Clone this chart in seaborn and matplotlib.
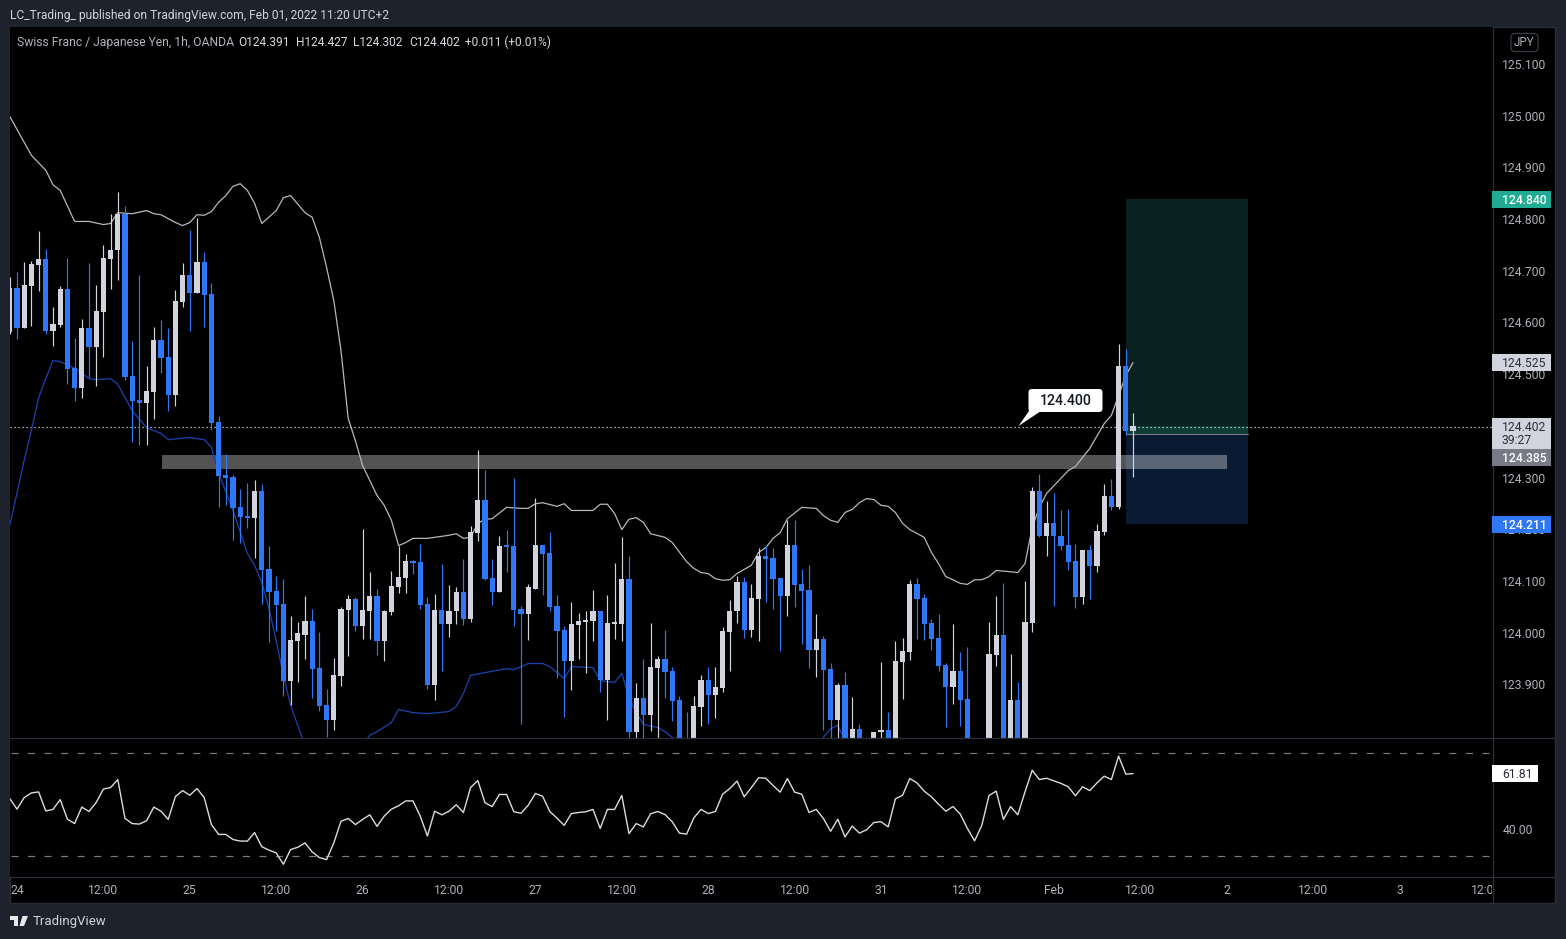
import matplotlib
matplotlib.use("Agg")
import matplotlib.pyplot as plt
import pandas as pd
import seaborn as sns
from matplotlib.lines import Line2D
from matplotlib.patches import FancyBboxPatch, Polygon, Rectangle
from matplotlib.transforms import Bbox, IdentityTransform, ScaledTranslation

bar_open = [
 124.584,124.669,124.590,124.673,124.712,124.725,124.586,124.596,124.667,124.513,
 124.474,124.590,124.555,124.621,124.725,124.741,124.812,124.499,124.451,124.445,
 124.468,124.567,124.534,124.462,124.642,124.694,124.658,124.719,124.656,124.410,
 124.306,124.302,124.244,124.228,124.224,124.275,124.124,124.083,124.058,123.909,
 123.986,123.998,124.025,123.934,123.861,123.832,123.917,124.046,124.066,124.015,
 124.044,124.073,123.986,124.041,124.089,124.108,124.141,124.139,124.058,123.901,
 124.046,124.019,124.043,124.081,124.029,124.195,124.259,124.108,124.081,124.170,
 124.170,124.048,124.037,124.087,124.172,124.155,124.054,124.006,123.946,124.017,
 124.023,124.025,124.043,123.911,124.019,124.019,124.106,123.810,123.876,123.843,
 123.934,123.950,123.927,123.872,123.785,123.785,123.857,123.911,123.882,123.894,
 124.002,124.043,124.099,124.006,124.066,124.149,124.147,124.108,124.072,124.172,
 124.095,124.085,123.969,123.990,123.932,123.832,123.901,123.785,123.816,123.770,
 123.785,123.809,123.814,123.785,123.944,123.965,124.095,124.068,124.021,123.992,
 123.940,123.897,123.928,123.874,123.770,123.750,123.785,123.959,123.998,123.785,
 123.872,123.785,124.021,124.275,124.188,124.213,124.188,124.172,124.141,124.070,
 124.161,124.130,124.197,124.265,124.244,124.518,124.391]
bar_high = [
 124.689,124.700,124.719,124.721,124.778,124.743,124.632,124.673,124.727,124.572,
 124.609,124.716,124.675,124.752,124.812,124.853,124.826,124.565,124.694,124.518,
 124.592,124.607,124.590,124.665,124.717,124.781,124.803,124.737,124.677,124.420,
 124.348,124.306,124.279,124.292,124.296,124.290,124.170,124.112,124.106,124.033,
 124.023,124.072,124.048,124.002,123.892,123.952,124.052,124.075,124.070,124.203,
 124.118,124.087,124.046,124.120,124.170,124.153,124.143,124.174,124.070,124.077,
 124.135,124.093,124.089,124.145,124.207,124.354,124.317,124.145,124.188,124.201,
 124.300,124.054,124.095,124.263,124.172,124.197,124.075,124.015,124.060,124.039,
 124.044,124.085,124.043,124.075,124.137,124.186,124.149,123.905,123.950,124.021,
 123.956,124.006,123.936,123.880,123.849,123.880,123.919,123.936,123.936,124.012,
 124.064,124.112,124.110,124.095,124.166,124.170,124.166,124.108,124.220,124.220,
 124.124,124.133,124.037,123.996,123.942,123.905,123.925,123.878,123.824,123.788,
 123.810,123.944,123.849,123.986,123.992,124.104,124.108,124.077,124.029,124.037,
 123.942,124.019,123.965,123.973,123.785,123.775,124.023,124.073,124.097,123.961,
 123.907,124.101,124.284,124.308,124.257,124.271,124.238,124.240,124.174,124.162,
 124.172,124.211,124.290,124.298,124.559,124.551,124.427]
bar_low = [
 124.580,124.569,124.590,124.594,124.663,124.580,124.557,124.592,124.482,124.449,
 124.456,124.497,124.478,124.534,124.667,124.683,124.491,124.371,124.365,124.365,
 124.414,124.503,124.431,124.441,124.631,124.586,124.658,124.592,124.393,124.244,
 124.248,124.180,124.176,124.205,124.147,124.058,123.983,124.004,123.880,123.861,
 123.907,123.950,123.876,123.851,123.800,123.814,123.899,123.957,124.004,123.990,
 123.990,123.959,123.946,124.035,124.079,124.079,124.116,124.048,123.892,123.872,
 123.927,123.994,124.019,124.017,124.023,124.178,124.103,124.056,124.081,124.118,
 124.015,123.824,123.988,124.087,124.075,124.043,123.913,123.839,123.890,123.950,
 123.923,123.985,123.886,123.832,123.990,123.986,123.785,123.785,123.785,123.812,
 123.785,123.876,123.830,123.770,123.760,123.775,123.822,123.824,123.836,123.886,
 123.927,124.021,123.992,123.994,123.985,124.060,124.048,123.967,124.033,124.052,
 123.979,123.934,123.915,123.814,123.785,123.785,123.770,123.770,123.770,123.750,
 123.775,123.785,123.770,123.770,123.874,123.948,123.990,123.988,123.969,123.927,
 123.820,123.863,123.822,123.770,123.740,123.740,123.770,123.938,123.770,123.770,
 123.770,123.770,124.002,124.186,124.149,124.054,124.161,124.122,124.050,124.058,
 124.066,124.118,124.191,124.238,124.240,124.383,124.302]
bar_close = [
 124.669,124.590,124.675,124.714,124.725,124.586,124.598,124.667,124.511,124.474,
 124.590,124.555,124.623,124.727,124.741,124.812,124.497,124.449,124.445,124.470,
 124.567,124.532,124.462,124.644,124.694,124.658,124.719,124.654,124.408,124.304,
 124.300,124.242,124.226,124.224,124.275,124.122,124.081,124.056,123.909,123.988,
 124.000,124.025,123.932,123.859,123.832,123.919,124.048,124.066,124.015,124.046,
 124.073,123.986,124.043,124.091,124.110,124.141,124.137,124.056,123.901,124.046,
 124.019,124.044,124.081,124.029,124.197,124.259,124.106,124.081,124.170,124.168,
 124.046,124.037,124.089,124.172,124.153,124.052,124.004,123.946,124.019,124.025,
 124.027,124.043,123.911,124.021,124.021,124.106,123.810,123.876,123.843,123.936,
 123.950,123.925,123.870,123.785,123.775,123.859,123.911,123.882,123.896,124.004,
 124.044,124.099,124.006,124.068,124.149,124.145,124.106,124.072,124.172,124.093,
 124.083,123.969,123.990,123.930,123.832,123.901,123.785,123.816,123.785,123.755,
 123.810,123.814,123.785,123.946,123.967,124.095,124.066,124.019,123.990,123.938,
 123.897,123.928,123.872,123.785,123.750,123.770,123.961,123.998,123.785,123.872,
 123.785,124.023,124.275,124.188,124.213,124.188,124.170,124.139,124.070,124.161,
 124.130,124.199,124.265,124.244,124.518,124.391,124.402]

upper_bars = [
 -1,2,4,5,6,8,10,12,13,14,
 16,18,19,20,22,23,24,25,26,27,
 28,29,30,31,32,33,34,36,37,38,
 40,41,42,43,44,45,46,47,48,49,
 50,51,52,53,54,55,57,60,61,62,
 63,64,65,66,68,70,71,72,73,75,
 76,77,80,81,82,83,84,85,86,87,
 88,90,91,93,94,95,96,97,98,99,
 100,102,103,104,105,106,107,109,111,112,
 113,114,115,116,117,118,119,120,121,122,
 123,124,126,127,128,129,130,131,132,133,
 134,135,136,139,140,141,142,143,146,147,
 149,151,152,154,155]
upper_vals = [
 125.000,124.925,124.896,124.868,124.857,124.797,124.797,124.791,124.793,124.814,
 124.812,124.818,124.812,124.810,124.795,124.789,124.795,124.810,124.809,124.816,
 124.834,124.847,124.865,124.870,124.857,124.832,124.793,124.818,124.843,124.847,
 124.814,124.805,124.766,124.708,124.644,124.547,124.416,124.373,124.325,124.296,
 124.267,124.248,124.219,124.170,124.176,124.184,124.184,124.190,124.193,124.184,
 124.186,124.213,124.221,124.222,124.244,124.242,124.242,124.251,124.253,124.246,
 124.251,124.238,124.238,124.250,124.250,124.232,124.201,124.221,124.224,124.215,
 124.193,124.186,124.176,124.139,124.126,124.118,124.116,124.106,124.103,124.104,
 124.116,124.132,124.157,124.166,124.184,124.195,124.222,124.244,124.242,124.228,
 124.219,124.215,124.234,124.240,124.253,124.261,124.259,124.248,124.246,124.234,
 124.213,124.201,124.186,124.157,124.135,124.110,124.104,124.097,124.095,124.104,
 124.104,124.110,124.122,124.118,124.135,124.205,124.244,124.271,124.315,124.323,
 124.358,124.406,124.422,124.499,124.524]
lower_bars = [
 -1,1,2,3,4,5,6,8,10,11,
 13,14,16,18,20,21,24,26,27,28,
 30,32,33,34,35,36,37,38,39,40,
 44,48,49,50,52,53,55,57,60,61,
 62,63,66,68,69,71,73,74,76,77,
 80,81,83,84,85,86,87,89,90,91,
 92,100,110,112,113,114,115,118]
lower_vals = [
 124.209,124.335,124.393,124.456,124.493,124.528,124.526,124.513,124.493,124.491,
 124.493,124.482,124.431,124.398,124.387,124.375,124.379,124.375,124.360,124.311,
 124.238,124.155,124.132,124.099,124.048,123.986,123.919,123.861,123.822,123.783,
 123.720,123.785,123.803,123.810,123.828,123.853,123.847,123.845,123.849,123.859,
 123.884,123.919,123.927,123.932,123.930,123.942,123.942,123.936,123.913,123.936,
 123.934,123.909,123.905,123.923,123.876,123.847,123.824,123.818,123.810,123.799,
 123.775,123.720,123.750,123.799,123.816,123.822,123.793,123.750]

rsi_vals = [
 52.1,48.0,52.5,54.3,54.7,47.3,47.9,51.7,44.1,42.4,
 48.8,47.1,50.6,55.8,56.4,59.5,44.4,42.4,42.2,43.5,
 48.8,47.2,44.0,52.9,55.2,53.4,56.0,52.5,42.0,38.2,
 38.2,36.2,35.6,35.6,38.9,33.4,32.1,31.0,26.6,32.3,
 33.2,34.9,31.4,29.2,28.4,34.9,43.3,44.4,42.0,44.0,
 45.8,41.3,45.3,48.0,49.3,51.2,51.2,45.3,37.6,47.2,
 45.8,47.2,49.7,46.7,56.4,59.1,50.5,49.0,53.7,53.7,
 47.0,46.4,49.5,54.1,53.0,47.1,44.5,41.7,46.3,46.7,
 47.0,47.9,40.5,47.9,47.9,53.3,38.5,42.4,41.1,46.2,
 47.1,45.9,43.1,38.7,38.3,44.6,47.9,46.3,47.1,53.8,
 56.0,58.9,52.8,56.4,60.2,60.0,57.2,54.6,59.9,54.6,
 53.8,46.7,47.9,44.4,39.4,44.1,37.2,41.4,38.7,40.0,
 42.8,43.1,41.1,52.0,53.4,59.9,58.2,55.0,52.8,49.9,
 47.2,49.0,46.1,40.5,35.7,41.7,53.3,55.0,44.0,49.0,
 45.8,54.7,63.1,59.5,60.0,59.0,58.0,56.7,53.2,56.7,
 55.2,58.2,60.8,59.5,68.6,61.6,61.81]

price_ticks = [123.9,124.0,124.1,124.2,124.3,124.4,124.5,124.6,124.7,124.8,124.9,125.0,125.1]
time_labels = ["24","12:00","25","12:00","26","12:00","27","12:00","28","12:00","31","12:00","Feb","12:00","2","12:00","3","12:00"]
target_price, entry_price, stop_price, last_price = 124.840, 124.385, 124.211, 124.402
zone_top, zone_bottom, callout_price = 124.345, 124.318, 124.400

W, H = 1566, 939
FRAME, BLACK, GRID = "#1e222d", "#000000", "#2a2e39"
UP, DOWN, TICK = "#d1d4dc", "#2f77f7", "#aeb1ba"

sns.set_theme(style="dark", rc={"axes.grid": False})
plt.rcParams["font.family"] = ["Roboto", "DejaVu Sans"]

fig = plt.figure(figsize=(W / 100, H / 100), dpi=100, facecolor=FRAME)


def fx(x):
    return x / W


def fy(y):
    return 1 - y / H


def pane(left, top, right, bottom):
    return fig.add_axes([fx(left), fy(bottom), fx(right - left), fy(top) - fy(bottom)], facecolor=BLACK)


fig.add_artist(Rectangle((fx(10), fy(903)), fx(1545), fy(27) - fy(903), transform=fig.transFigure,
                         fc=BLACK, ec=GRID, lw=1, zorder=-1))

ax = pane(10, 27, 1492.5, 737.5)
ar = pane(10, 738, 1492.5, 876.5)
x_left, x_right = (10 - 17) / 7.2, (1492.5 - 17) / 7.2
for a in (ax, ar):
    a.grid(False)
    for s in a.spines.values():
        s.set_visible(False)

# --- position tool and S/R zone
x0, x1 = (1126 - 17) / 7.2, (1248 - 17) / 7.2
ax.fill_between([x0, x1], entry_price, target_price, color="#09221f", lw=0, zorder=1)
ax.fill_between([x0, x1], entry_price, last_price, color="#0f3d36", lw=0, zorder=1.1)
ax.fill_between([x0, x1], stop_price, entry_price, color="#0a1a33", lw=0, zorder=1)
ax.plot([x0, x1], [entry_price, entry_price], color="#787b86", lw=0.8, zorder=1.2)
ax.fill_between([(162 - 17) / 7.2, (1227 - 17) / 7.2], zone_bottom, zone_top, color="#ffffff", alpha=0.33, lw=0, zorder=1.3)
ax.axhline(last_price - 0.003, color="#dcdcdc", lw=0.9, ls=(0, (1, 2.2)), zorder=1.6)

# --- Bollinger bands
sns.lineplot(data=pd.DataFrame({"bar": upper_bars, "price": upper_vals}), x="bar", y="price", ax=ax,
             color="#b8b8b8", lw=0.9, errorbar=None, legend=False, zorder=2)
sns.lineplot(data=pd.DataFrame({"bar": lower_bars, "price": lower_vals}), x="bar", y="price", ax=ax,
             color="#1a3fa8", lw=0.95, errorbar=None, legend=False, zorder=2)

# --- candles
bars = pd.DataFrame({"open": bar_open, "high": bar_high, "low": bar_low, "close": bar_close})
bars["bar"] = range(-1, len(bars) - 1)
for rising, col in ((True, UP), (False, DOWN)):
    g = bars[(bars.close >= bars.open) == rising]
    ax.vlines(g.bar, g.low, g.high, color=col, lw=0.85, zorder=3)
    ax.bar(g.bar, (g.close - g.open).abs().clip(lower=0.003), bottom=g[["open", "close"]].min(axis=1),
           width=0.7, color=col, lw=0, zorder=3.1)

# --- RSI
ar.hlines([30, 70], x_left + 0.1, (1489 - 17) / 7.2, color="#787b86", lw=0.85, ls=(0, (6, 8)), zorder=1)
sns.lineplot(data=pd.DataFrame({"bar": range(-1, len(rsi_vals) - 1), "rsi": rsi_vals}), x="bar", y="rsi", ax=ar,
             color="#dcdcdc", lw=1.0, errorbar=None, legend=False, zorder=2)

# --- axes limits and ticks
for a in (ax, ar):
    a.yaxis.tick_right()
    a.set_xlabel("")
    a.set_ylabel("")
    a.tick_params(axis="y", length=0, pad=7.0, labelsize=8.7, labelcolor=TICK)
    a.tick_params(axis="x", length=0, pad=5.3, labelsize=8.7, labelcolor=TICK)
ax.set_yticks(price_ticks, [f"{p:.3f}" for p in price_ticks])
ax.set_xticks([])
ar.set_yticks([40], ["40.00"])
ar.set_xticks([12 * k for k in range(len(time_labels))], time_labels)
for a in (ax, ar):
    a.set_xlim(x_left, x_right)
ax.set_ylim(124 + (633.5 - 737.5) / 517, 124 + (633.5 - 27) / 517)
ar.set_ylim(30 + (855.5 - 876.5) / 2.575, 30 + (855.5 - 738) / 2.575)
nudge_up = ScaledTranslation(0, 0.8 / 100, fig.dpi_scale_trans)
for a in (ax, ar):
    for lab in a.get_yticklabels():
        lab.set_transform(lab.get_transform() + nudge_up)
clip = Bbox([[0, 0], [1492, H]])
for lab in ar.get_xticklabels():
    lab.set_clip_on(True)
    lab.set_clip_box(clip)

# --- separators
for xs, ys in (((1492.5, 1492.5), (27, 903)), ((10, 1555), (737.5, 737.5)), ((10, 1555), (876.5, 876.5))):
    fig.add_artist(Line2D([fx(v) for v in xs], [fy(v) for v in ys], transform=fig.transFigure, color=GRID, lw=0.9, zorder=4))


# --- price tags
def tag(top, bottom, fc, lines, color, right=1551, weight="normal"):
    fig.add_artist(Rectangle((fx(1492), fy(bottom)), fx(right - 1492), fy(top) - fy(bottom), transform=fig.transFigure,
                             fc=fc, lw=0, zorder=5))
    for ymid, txt in lines:
        fig.text(fx(1502), fy(ymid + 0.7), txt, color=color, fontsize=8.7, va="center", ha="left", weight=weight, zorder=6)


tag(191, 208, "#22ab94", [(199.5, "124.840")], "#ffffff", weight="medium")
tag(354, 371, "#d1d4dc", [(362.5, "124.525")], "#2a2e39")
tag(418, 449, "#d1d4dc", [(426.5, "124.402"), (440, "39:27")], "#2a2e39")
tag(449, 466, "#787b86", [(457.5, "124.385")], "#ffffff", weight="medium")
tag(516, 533, "#2f77f7", [(524.5, "124.211")], "#ffffff", weight="medium")
tag(765, 782, "#ffffff", [(773.5, "61.81")], "#2a2e39", right=1537.5)


def flip(x, y):
    return (x, H - y)


fig.add_artist(FancyBboxPatch(flip(1514, 48.5), 21, 12, boxstyle="round,pad=3,rounding_size=4", transform=IdentityTransform(),
                              fc=BLACK, ec="#363a45", lw=0.9, zorder=5))
fig.text(fx(1524.5), fy(43), "JPY", color=TICK, fontsize=8.4, ha="center", va="center", zorder=6)

# --- callout
fig.add_artist(Polygon([flip(1018.5, 426), flip(1029, 411), flip(1041, 411)], closed=True, transform=IdentityTransform(),
                       fc="#ffffff", lw=0, zorder=5))
fig.add_artist(FancyBboxPatch(flip(1031, 409.5), 69, 18, boxstyle="round,pad=2.5,rounding_size=3.5", transform=IdentityTransform(),
                              fc="#ffffff", lw=0, zorder=5))
fig.text(fx(1065.5), fy(401.2), f"{callout_price:.3f}", color="#131722", fontsize=10.2, ha="center", va="center", weight="medium", zorder=6)

# --- header texts
fig.text(fx(10), fy(15), "LC_Trading_ published on TradingView.com, Feb 01, 2022 11:20 UTC+2", color="#d1d4dc", fontsize=8.63, va="center")
fig.text(fx(17), fy(42.5), "Swiss Franc / Japanese Yen, 1h, OANDA", color="#b2b5be", fontsize=8.7, va="center")
for xt, txt in ((238, "O124.391"), (296, "H124.427"), (353, "L124.302"), (409, "C124.402"), (465, "+0.011 (+0.01%)")):
    fig.text(fx(xt), fy(42.5), txt, color="#d8dae0", fontsize=8.6, va="center")

# --- footer logo
for pts in ([(10, 916), (18, 916), (18, 926), (14, 926), (14, 920), (10, 920)],
            [(22.5, 916), (28, 916), (24, 926), (19.5, 926)]):
    fig.add_artist(Polygon([flip(*p) for p in pts], closed=True, transform=IdentityTransform(), fc="#e8e8ea", lw=0, zorder=5))
fig.text(fx(33), fy(922), "TradingView", color="#d1d4dc", fontsize=9.5, va="center")

fig.savefig("out.png", dpi=100, facecolor=FRAME)
